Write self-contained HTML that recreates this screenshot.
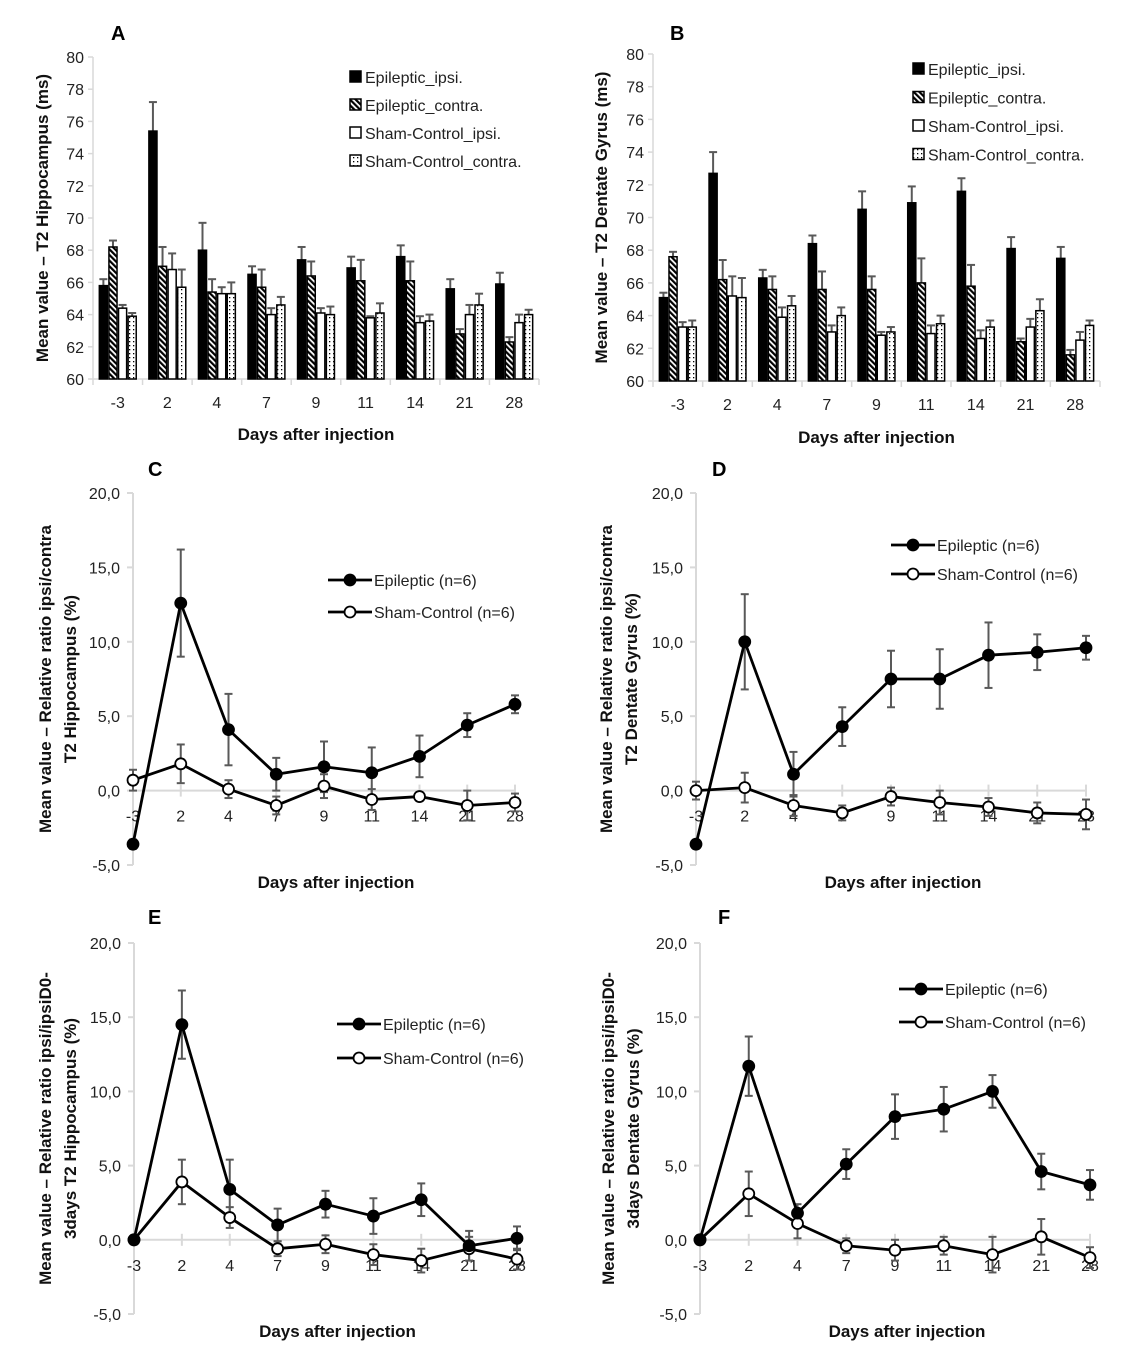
<!DOCTYPE html>
<html><head><meta charset="utf-8"><style>
body{margin:0;background:#fff;}
svg{display:block;font-family:"Liberation Sans",sans-serif;}
</style></head><body>
<svg id="fig" width="1129" height="1368" viewBox="0 0 1129 1368" xmlns="http://www.w3.org/2000/svg">
<defs>
<pattern id="stripe" patternUnits="userSpaceOnUse" width="4" height="4" patternTransform="rotate(-45)"><rect width="4" height="4" fill="#fff"/><rect width="2.2" height="4" fill="#000"/></pattern>
<pattern id="dots" patternUnits="userSpaceOnUse" width="4" height="4"><rect width="4" height="4" fill="#fff"/><rect x="1" y="1" width="1.3" height="1.3" fill="#000"/></pattern>
</defs>
</svg>
<script>
const days = ["-3","2","4","7","9","11","14","21","28"];
const barSeriesNames = ["Epileptic_ipsi.","Epileptic_contra.","Sham-Control_ipsi.","Sham-Control_contra."];
const barTicks = [60,62,64,66,68,70,72,74,76,78,80];
const aEpiIpsi   = [65.8,75.4,68.0,66.5,67.4,66.9,67.6,65.6,65.9];
const aEpiContra = [68.2,67.0,65.4,65.7,66.4,66.1,66.1,62.8,62.3];
const aShamIpsi  = [64.4,66.8,65.3,64.0,64.1,63.8,63.5,64.0,63.5];
const aShamContra= [63.9,65.7,65.3,64.6,64.0,64.1,63.6,64.6,64.0];
const aErr = [[0.4,1.8,1.7,0.5,0.8,0.7,0.7,0.6,0.7],[0.4,1.2,0.8,1.1,0.9,1.3,1.2,0.3,0.3],[0.2,1.0,0.4,0.4,0.3,0.1,0.4,0.6,0.5],[0.2,1.1,0.7,0.5,0.5,0.6,0.4,0.7,0.3]];
const bEpiIpsi   = [65.1,72.7,66.3,68.4,70.5,70.9,71.6,68.1,67.5];
const bEpiContra = [67.6,66.2,65.6,65.6,65.6,66.0,65.8,62.4,61.6];
const bShamIpsi  = [63.3,65.2,63.9,63.0,62.8,62.9,62.6,63.3,62.5];
const bShamContra= [63.3,65.1,64.6,64.0,63.0,63.5,63.3,64.3,63.4];
const bErr = [[0.3,1.3,0.5,0.5,1.1,1.0,0.8,0.7,0.7],[0.3,1.2,0.8,1.1,0.8,1.5,1.3,0.2,0.3],[0.3,1.2,0.6,0.4,0.2,0.5,0.5,0.5,0.5],[0.4,1.2,0.6,0.5,0.3,0.5,0.4,0.7,0.3]];
const lineTicks = [-5,0,5,10,15,20];
const lineTickLabels = ["-5,0","0,0","5,0","10,0","15,0","20,0"];
const cEpi = [-3.6,12.6,4.1,1.1,1.6,1.2,2.3,4.4,5.8];
const cEpiErr = [0.3,3.6,2.4,1.1,1.7,1.7,1.4,0.8,0.6];
const cSham = [0.7,1.8,0.1,-1.0,0.3,-0.6,-0.4,-1.0,-0.8];
const cShamErr = [0.7,1.3,0.6,0.6,0.8,0.7,0.2,1.0,0.6];
const dEpi = [-3.6,10.0,1.1,4.3,7.5,7.5,9.1,9.3,9.6];
const dEpiErr = [0.2,3.2,1.5,1.3,1.9,2.0,2.2,1.2,0.8];
const dSham = [0.0,0.2,-1.0,-1.5,-0.4,-0.8,-1.1,-1.5,-1.6];
const dShamErr = [0.6,1.0,0.7,0.5,0.6,0.8,0.6,0.7,1.0];
const eEpi = [0,14.5,3.4,1.0,2.4,1.6,2.7,-0.4,0.1];
const eEpiErr = [0,2.3,2.0,1.1,0.9,1.2,1.1,1.0,0.8];
const eSham = [0,3.9,1.5,-0.6,-0.3,-1.0,-1.4,-0.6,-1.3];
const eShamErr = [0,1.5,0.7,0.5,0.6,0.7,0.8,0.8,0.7];
const fEpi = [0,11.7,1.8,5.1,8.3,8.8,10.0,4.6,3.7];
const fEpiErr = [0,2.0,0.6,1.0,1.5,1.5,1.1,1.2,1.0];
const fSham = [0,3.1,1.1,-0.4,-0.7,-0.4,-1.0,0.2,-1.2];
const fShamErr = [0,1.5,1.0,0.5,0.7,0.6,1.2,1.2,0.7];

const NS="http://www.w3.org/2000/svg";
const svg=document.getElementById('fig');
function el(tag,attrs,parent){const e=document.createElementNS(NS,tag);for(const k in attrs)e.setAttribute(k,attrs[k]);(parent||svg).appendChild(e);return e;}
function txt(s,attrs,parent){const e=el('text',attrs,parent);e.textContent=s;return e;}

function barPanel(o){
  const g=el('g',{});
  
  
  const y=v=>o.y0+(v-60)/20*(o.y1-o.y0);
  const cw=(o.x1-o.x0)/days.length;
  el('line',{x1:o.x0,y1:o.y0,x2:o.x0,y2:o.y1,stroke:'#d9d9d9','stroke-width':1.5},g);
  el('line',{x1:o.x0,y1:o.y0,x2:o.x1,y2:o.y0,stroke:'#d9d9d9','stroke-width':1.5},g);
  barTicks.forEach(t=>{
    el('line',{x1:o.x0-5,y1:y(t),x2:o.x0,y2:y(t),stroke:'#d9d9d9','stroke-width':1.5},g);
    const l=txt(String(t),{x:o.x0-9,y:y(t)+6,'text-anchor':'end','font-size':16,fill:'#222'},g);
    
    
  });
  for(let i=0;i<=days.length;i++) el('line',{x1:o.x0+i*cw,y1:o.y0,x2:o.x0+i*cw,y2:o.y0+6,stroke:'#d9d9d9','stroke-width':1.5},g);
  const fills=['#000','url(#stripe)','#fff','url(#dots)'];
  const bw=9.6;
  days.forEach((d,i)=>{
    const cx=o.x0+(i+0.5)*cw;
    o.series.forEach((s,k)=>{
      const bx=cx-2*bw+k*bw;
      const top=y(s[i]);
      el('line',{x1:bx+bw/2,y1:top,x2:bx+bw/2,y2:y(s[i]+o.err[k][i]),stroke:'#595959','stroke-width':2},g);
      el('line',{x1:bx+bw/2-4,y1:y(s[i]+o.err[k][i]),x2:bx+bw/2+4,y2:y(s[i]+o.err[k][i]),stroke:'#595959','stroke-width':2},g);
      const r=el('rect',{x:bx+0.75,y:top,width:bw-1.5,height:o.y0-top,fill:fills[k],stroke:'#000','stroke-width':1.5},g);
      
      
    });
    const l=txt(d,{x:cx,y:o.y0+29,'text-anchor':'middle','font-size':16,fill:'#222'},g);
    
    
  });
  barSeriesNames.forEach((n,k)=>{
    const ly=o.leg[1]+k*o.legStep;
    el('rect',{x:o.leg[0],y:ly-6,width:11,height:11,fill:fills[k],stroke:'#000','stroke-width':1.5},g);
    const l=txt(n,{x:o.leg[0]+15,y:ly+6,'font-size':16,fill:'#222'},g);
    
    
  });
  const xt=txt('Days after injection',{x:(o.x0+o.x1)/2,y:o.xtY,'text-anchor':'middle','font-size':17,'font-weight':'bold',fill:'#111'},g);
  
  
  const yt=txt(o.ytitle,{x:0,y:0,'text-anchor':'middle','font-size':17,'font-weight':'bold',fill:'#111',transform:`translate(${o.ytX},${(o.y0+o.y1)/2}) rotate(-90)`},g);
  
  
  const pl=txt(o.label,{x:o.labelPos[0],y:o.labelPos[1],'font-size':20,'font-weight':'bold',fill:'#000'},g);
  
  
}

function linePanel(o){
  const g=el('g',{});
  
  
  const y=v=>o.y0+(v-(-5))/25*(o.y1-o.y0);
  const step=(o.x1-o.x0)/(days.length-1);
  const x=i=>o.x0+i*step;
  el('line',{x1:o.x0,y1:o.y0,x2:o.x0,y2:o.y1,stroke:'#d9d9d9','stroke-width':2},g);
  el('line',{x1:o.x0,y1:y(0),x2:o.x1,y2:y(0),stroke:'#d9d9d9','stroke-width':2},g);
  lineTicks.forEach((t,j)=>{
    el('line',{x1:o.x0-6,y1:y(t),x2:o.x0,y2:y(t),stroke:'#d9d9d9','stroke-width':2},g);
    const l=txt(lineTickLabels[j],{x:o.x0-13,y:y(t)+6,'text-anchor':'end','font-size':16,fill:'#222'},g);
    
    
  });
  days.forEach((d,i)=>{
    el('line',{x1:x(i),y1:y(0)-6,x2:x(i),y2:y(0)+6,stroke:'#d9d9d9','stroke-width':2},g);
    const l=txt(d,{x:x(i),y:y(0)+31,'text-anchor':'middle','font-size':16,fill:'#222'},g);
    
    
  });
  const series=[[o.epi,o.epiErr,'#000','epileptic'],[o.sham,o.shamErr,'#fff','sham-control']];
  series.forEach(([vals,errs])=>{
    vals.forEach((v,i)=>{
      if(errs[i]<=0) return;
      const a=y(v+errs[i]),b=y(v-errs[i]);
      el('line',{x1:x(i),y1:a,x2:x(i),y2:b,stroke:'#595959','stroke-width':2},g);
      el('line',{x1:x(i)-4,y1:a,x2:x(i)+4,y2:a,stroke:'#595959','stroke-width':2},g);
      el('line',{x1:x(i)-4,y1:b,x2:x(i)+4,y2:b,stroke:'#595959','stroke-width':2},g);
    });
  });
  series.slice().reverse().forEach(([vals,errs,fill,nm])=>{
    const p=el('polyline',{points:vals.map((v,i)=>x(i)+','+y(v)).join(' '),fill:'none',stroke:'#000','stroke-width':2.8,'stroke-linejoin':'round'},g);
    
    
    vals.forEach((v,i)=>{
      const c=el('circle',{cx:x(i),cy:y(v),r:5.5,fill:fill,stroke:'#000','stroke-width':1.8},g);
      
      
    });
  });
  const names=['Epileptic (n=6)','Sham-Control (n=6)'];
  names.forEach((n,k)=>{
    const ly=o.leg[1]+k*o.legStep;
    el('line',{x1:o.leg[0],y1:ly,x2:o.leg[0]+44,y2:ly,stroke:'#000','stroke-width':2.8},g);
    el('circle',{cx:o.leg[0]+22,cy:ly,r:5.5,fill:k?'#fff':'#000',stroke:'#000','stroke-width':1.8},g);
    const l=txt(n,{x:o.leg[0]+46,y:ly+6,'font-size':16,fill:'#222'},g);
    
    
  });
  const xt=txt('Days after injection',{x:(o.x0+o.x1)/2+12,y:o.xtY,'text-anchor':'middle','font-size':17,'font-weight':'bold',fill:'#111'},g);
  
  
  const cy=(o.y0+o.y1)/2;
  const yt=el('text',{x:0,y:0,'text-anchor':'middle','font-size':17,'font-weight':'bold',fill:'#111',transform:`translate(${o.ytX},${cy}) rotate(-90)`},g);
  
  
  o.ytitle.forEach((s,k)=>{const t=el('tspan',{x:0,dy:k?25:0},yt);t.textContent=s;});
  const pl=txt(o.label,{x:o.labelPos[0],y:o.labelPos[1],'font-size':20,'font-weight':'bold',fill:'#000'},g);
  
  
}

barPanel({name:'panel-a',label:'A',labelPos:[111,40],x0:93,x1:539,y0:379,y1:57,series:[aEpiIpsi,aEpiContra,aShamIpsi,aShamContra],err:aErr,leg:[350,77],legStep:28,xtY:440,ytX:48,ytitle:'Mean value – T2 Hippocampus (ms)'});
barPanel({name:'panel-b',label:'B',labelPos:[670,40],x0:653,x1:1100,y0:381,y1:54,series:[bEpiIpsi,bEpiContra,bShamIpsi,bShamContra],err:bErr,leg:[913,69],legStep:28.5,xtY:443,ytX:607,ytitle:'Mean value – T2 Dentate Gyrus (ms)'});
linePanel({name:'panel-c',label:'C',labelPos:[148,476],x0:133,x1:515,y0:865,y1:493,epi:cEpi,epiErr:cEpiErr,sham:cSham,shamErr:cShamErr,leg:[328,580],legStep:32,xtY:888,ytX:51,ytitle:['Mean value – Relative ratio ipsi/contra','T2 Hippocampus (%)']});
linePanel({name:'panel-d',label:'D',labelPos:[712,476],x0:696,x1:1086,y0:865,y1:493,epi:dEpi,epiErr:dEpiErr,sham:dSham,shamErr:dShamErr,leg:[891,545],legStep:29,xtY:888,ytX:612,ytitle:['Mean value – Relative ratio ipsi/contra','T2 Dentate Gyrus (%)']});
linePanel({name:'panel-e',label:'E',labelPos:[148,924],x0:134,x1:517,y0:1314,y1:943,epi:eEpi,epiErr:eEpiErr,sham:eSham,shamErr:eShamErr,leg:[337,1024],legStep:34,xtY:1337,ytX:51,ytitle:['Mean value – Relative ratio ipsi/ipsiD0-','3days T2 Hippocampus (%)']});
linePanel({name:'panel-f',label:'F',labelPos:[718,924],x0:700,x1:1090,y0:1314,y1:943,epi:fEpi,epiErr:fEpiErr,sham:fSham,shamErr:fShamErr,leg:[899,989],legStep:33,xtY:1337,ytX:614,ytitle:['Mean value – Relative ratio ipsi/ipsiD0-','3days Dentate Gyrus (%)']});
</script>
</body></html>
